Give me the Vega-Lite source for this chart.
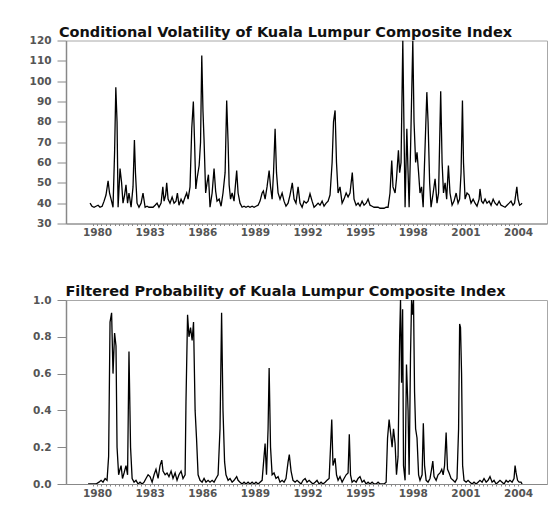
{
"$schema": "https://vega.github.io/schema/vega-lite/v6.json",
"background": "white",
"padding": {"left": 28, "top": 23.5, "right": 5, "bottom": 5},
"spacing": 44.5,
"config": {
  "font": "DejaVu Sans",
  "view": {"stroke": "#a8a8a8", "strokeWidth": 1},
  "axis": {"grid": false, "labelFont": "DejaVu Sans", "labelFontWeight": "bold", "labelFontSize": 10.5, "labelColor": "#555555", "domainColor": "#888888", "tickColor": "#888888", "title": null, "labelOverlap": false, "labelBound": false, "labelFlush": false},
  "title": {"font": "DejaVu Sans", "fontWeight": "bold", "fontSize": 14.5, "color": "#111111", "dx": -21, "offset": -4.5}
},
"datasets": {
"vol": [
{"t":1979.60,"v":40},{"t":1979.71,"v":38.5},{"t":1979.83,"v":38},{"t":1979.94,"v":38.5},{"t":1980.06,"v":39},{"t":1980.17,"v":38},{"t":1980.29,"v":38.5},{"t":1980.40,"v":41},{"t":1980.51,"v":44},{"t":1980.63,"v":51},{"t":1980.71,"v":45},{"t":1980.80,"v":42},{"t":1980.91,"v":38},{"t":1981.00,"v":65},{"t":1981.07,"v":97},{"t":1981.14,"v":80},{"t":1981.20,"v":38},{"t":1981.31,"v":57},{"t":1981.40,"v":50},{"t":1981.48,"v":40},{"t":1981.57,"v":44},{"t":1981.65,"v":49},{"t":1981.74,"v":40},{"t":1981.82,"v":45},{"t":1981.94,"v":38},{"t":1982.05,"v":48},{"t":1982.13,"v":71},{"t":1982.19,"v":55},{"t":1982.28,"v":40},{"t":1982.39,"v":38},{"t":1982.51,"v":40},{"t":1982.62,"v":45},{"t":1982.74,"v":38},{"t":1982.85,"v":38.5},{"t":1982.96,"v":38},{"t":1983.08,"v":38},{"t":1983.19,"v":38},{"t":1983.31,"v":39},{"t":1983.42,"v":40},{"t":1983.53,"v":38},{"t":1983.65,"v":40},{"t":1983.75,"v":48},{"t":1983.82,"v":41},{"t":1983.91,"v":44},{"t":1983.97,"v":50},{"t":1984.05,"v":42},{"t":1984.16,"v":40},{"t":1984.28,"v":43},{"t":1984.39,"v":40},{"t":1984.50,"v":41},{"t":1984.58,"v":45},{"t":1984.67,"v":39},{"t":1984.79,"v":42},{"t":1984.90,"v":40},{"t":1985.02,"v":43},{"t":1985.11,"v":45},{"t":1985.19,"v":42},{"t":1985.30,"v":48},{"t":1985.40,"v":77},{"t":1985.49,"v":90},{"t":1985.56,"v":70},{"t":1985.63,"v":47},{"t":1985.70,"v":52},{"t":1985.82,"v":58.5},{"t":1985.90,"v":70},{"t":1985.97,"v":112.6},{"t":1986.04,"v":85},{"t":1986.10,"v":71},{"t":1986.19,"v":45},{"t":1986.27,"v":50},{"t":1986.35,"v":54},{"t":1986.44,"v":38},{"t":1986.56,"v":45},{"t":1986.67,"v":57},{"t":1986.76,"v":46},{"t":1986.84,"v":41},{"t":1986.96,"v":42},{"t":1987.07,"v":38.5},{"t":1987.18,"v":45},{"t":1987.30,"v":55},{"t":1987.39,"v":90.5},{"t":1987.47,"v":70},{"t":1987.53,"v":49},{"t":1987.61,"v":42},{"t":1987.70,"v":45},{"t":1987.81,"v":41},{"t":1987.96,"v":56},{"t":1988.04,"v":45},{"t":1988.15,"v":40},{"t":1988.27,"v":38},{"t":1988.38,"v":38.5},{"t":1988.49,"v":38},{"t":1988.61,"v":38.5},{"t":1988.72,"v":38},{"t":1988.84,"v":38.5},{"t":1988.95,"v":38},{"t":1989.06,"v":38.5},{"t":1989.18,"v":39},{"t":1989.29,"v":41},{"t":1989.41,"v":45},{"t":1989.48,"v":46},{"t":1989.58,"v":42},{"t":1989.69,"v":48},{"t":1989.81,"v":56},{"t":1989.89,"v":48},{"t":1989.98,"v":42},{"t":1990.06,"v":55},{"t":1990.15,"v":76.6},{"t":1990.23,"v":55},{"t":1990.32,"v":45},{"t":1990.43,"v":42},{"t":1990.55,"v":45},{"t":1990.66,"v":41},{"t":1990.77,"v":38.5},{"t":1990.89,"v":40},{"t":1991.00,"v":44},{"t":1991.13,"v":50},{"t":1991.23,"v":42},{"t":1991.34,"v":40},{"t":1991.46,"v":48},{"t":1991.57,"v":40},{"t":1991.69,"v":38},{"t":1991.80,"v":41},{"t":1991.92,"v":40},{"t":1992.03,"v":41},{"t":1992.14,"v":44.6},{"t":1992.26,"v":41},{"t":1992.37,"v":38},{"t":1992.49,"v":39},{"t":1992.60,"v":40},{"t":1992.71,"v":39},{"t":1992.83,"v":41},{"t":1992.94,"v":38.5},{"t":1993.06,"v":40},{"t":1993.17,"v":41},{"t":1993.28,"v":44},{"t":1993.40,"v":60},{"t":1993.48,"v":80},{"t":1993.57,"v":85.6},{"t":1993.65,"v":60},{"t":1993.74,"v":45},{"t":1993.85,"v":48},{"t":1993.97,"v":40},{"t":1994.08,"v":42},{"t":1994.20,"v":45},{"t":1994.31,"v":43},{"t":1994.42,"v":45},{"t":1994.55,"v":55},{"t":1994.65,"v":42},{"t":1994.77,"v":39},{"t":1994.88,"v":40},{"t":1994.99,"v":38.5},{"t":1995.11,"v":41},{"t":1995.22,"v":39},{"t":1995.34,"v":40},{"t":1995.45,"v":42},{"t":1995.56,"v":39},{"t":1995.68,"v":38.5},{"t":1995.79,"v":38},{"t":1995.91,"v":38},{"t":1996.02,"v":38},{"t":1996.13,"v":37.5},{"t":1996.25,"v":37.5},{"t":1996.36,"v":37.5},{"t":1996.48,"v":38},{"t":1996.59,"v":38},{"t":1996.70,"v":45},{"t":1996.80,"v":61},{"t":1996.87,"v":48},{"t":1996.99,"v":45},{"t":1997.07,"v":52},{"t":1997.18,"v":66},{"t":1997.25,"v":55},{"t":1997.33,"v":60},{"t":1997.43,"v":120},{"t":1997.50,"v":75},{"t":1997.56,"v":38},{"t":1997.66,"v":76.6},{"t":1997.73,"v":55},{"t":1997.79,"v":38},{"t":1997.87,"v":66},{"t":1998.00,"v":120},{"t":1998.07,"v":80},{"t":1998.16,"v":60},{"t":1998.24,"v":65},{"t":1998.33,"v":55},{"t":1998.41,"v":45},{"t":1998.50,"v":48},{"t":1998.59,"v":38},{"t":1998.67,"v":60},{"t":1998.80,"v":94.6},{"t":1998.87,"v":80},{"t":1998.96,"v":50},{"t":1999.04,"v":38},{"t":1999.16,"v":45},{"t":1999.27,"v":52},{"t":1999.38,"v":40},{"t":1999.47,"v":45},{"t":1999.59,"v":95},{"t":1999.67,"v":60},{"t":1999.75,"v":45},{"t":1999.84,"v":50},{"t":1999.93,"v":42},{"t":2000.03,"v":58.5},{"t":2000.12,"v":45},{"t":2000.24,"v":39},{"t":2000.35,"v":41},{"t":2000.47,"v":45},{"t":2000.58,"v":40},{"t":2000.67,"v":42},{"t":2000.75,"v":55},{"t":2000.83,"v":90.5},{"t":2000.89,"v":60},{"t":2000.98,"v":42},{"t":2001.09,"v":45},{"t":2001.21,"v":44},{"t":2001.32,"v":40},{"t":2001.44,"v":42},{"t":2001.55,"v":40},{"t":2001.66,"v":38.5},{"t":2001.78,"v":42},{"t":2001.83,"v":47},{"t":2001.92,"v":41},{"t":2002.01,"v":40},{"t":2002.12,"v":42},{"t":2002.23,"v":40},{"t":2002.35,"v":41},{"t":2002.46,"v":39},{"t":2002.58,"v":42},{"t":2002.69,"v":40},{"t":2002.80,"v":39},{"t":2002.92,"v":41},{"t":2003.03,"v":39},{"t":2003.15,"v":38.5},{"t":2003.26,"v":38},{"t":2003.37,"v":39},{"t":2003.49,"v":40},{"t":2003.60,"v":41},{"t":2003.71,"v":39},{"t":2003.80,"v":40},{"t":2003.93,"v":48},{"t":2004.00,"v":42},{"t":2004.09,"v":39},{"t":2004.17,"v":39.5},{"t":2004.23,"v":40}
],
"prob": [
{"t":1979.49,"p":0},{"t":1979.71,"p":0},{"t":1979.94,"p":0},{"t":1980.11,"p":0.01},{"t":1980.23,"p":0.02},{"t":1980.34,"p":0.01},{"t":1980.46,"p":0.03},{"t":1980.57,"p":0.02},{"t":1980.66,"p":0.15},{"t":1980.74,"p":0.88},{"t":1980.83,"p":0.93},{"t":1980.91,"p":0.6},{"t":1981.00,"p":0.82},{"t":1981.08,"p":0.75},{"t":1981.14,"p":0.2},{"t":1981.23,"p":0.05},{"t":1981.31,"p":0.08},{"t":1981.37,"p":0.1},{"t":1981.45,"p":0.03},{"t":1981.54,"p":0.06},{"t":1981.65,"p":0.1},{"t":1981.74,"p":0.05},{"t":1981.82,"p":0.72},{"t":1981.91,"p":0.2},{"t":1982.00,"p":0.03},{"t":1982.11,"p":0.01},{"t":1982.22,"p":0.02},{"t":1982.34,"p":0},{"t":1982.45,"p":0.01},{"t":1982.57,"p":0},{"t":1982.68,"p":0.01},{"t":1982.79,"p":0.03},{"t":1982.91,"p":0.05},{"t":1983.02,"p":0.04},{"t":1983.14,"p":0.01},{"t":1983.25,"p":0.05},{"t":1983.36,"p":0.08},{"t":1983.48,"p":0.03},{"t":1983.59,"p":0.1},{"t":1983.69,"p":0.13},{"t":1983.76,"p":0.07},{"t":1983.88,"p":0.05},{"t":1983.99,"p":0.06},{"t":1984.10,"p":0.04},{"t":1984.22,"p":0.07},{"t":1984.33,"p":0.03},{"t":1984.45,"p":0.06},{"t":1984.56,"p":0.02},{"t":1984.67,"p":0.05},{"t":1984.79,"p":0.07},{"t":1984.90,"p":0.03},{"t":1985.02,"p":0.05},{"t":1985.07,"p":0.45},{"t":1985.16,"p":0.92},{"t":1985.24,"p":0.8},{"t":1985.33,"p":0.85},{"t":1985.42,"p":0.78},{"t":1985.50,"p":0.88},{"t":1985.59,"p":0.4},{"t":1985.67,"p":0.25},{"t":1985.76,"p":0.05},{"t":1985.87,"p":0.02},{"t":1985.99,"p":0.01},{"t":1986.10,"p":0.03},{"t":1986.21,"p":0.01},{"t":1986.33,"p":0.02},{"t":1986.44,"p":0.01},{"t":1986.56,"p":0.02},{"t":1986.67,"p":0.01},{"t":1986.78,"p":0.03},{"t":1986.90,"p":0.05},{"t":1987.01,"p":0.3},{"t":1987.10,"p":0.93},{"t":1987.18,"p":0.4},{"t":1987.27,"p":0.12},{"t":1987.35,"p":0.05},{"t":1987.47,"p":0.02},{"t":1987.58,"p":0.03},{"t":1987.70,"p":0.01},{"t":1987.81,"p":0.02},{"t":1987.96,"p":0.04},{"t":1988.04,"p":0.02},{"t":1988.15,"p":0.01},{"t":1988.27,"p":0},{"t":1988.38,"p":0.01},{"t":1988.49,"p":0},{"t":1988.61,"p":0.01},{"t":1988.72,"p":0},{"t":1988.84,"p":0.01},{"t":1988.95,"p":0},{"t":1989.06,"p":0.01},{"t":1989.18,"p":0},{"t":1989.29,"p":0.01},{"t":1989.41,"p":0.02},{"t":1989.52,"p":0.15},{"t":1989.58,"p":0.22},{"t":1989.66,"p":0.05},{"t":1989.75,"p":0.3},{"t":1989.81,"p":0.63},{"t":1989.89,"p":0.2},{"t":1989.98,"p":0.05},{"t":1990.09,"p":0.06},{"t":1990.20,"p":0.03},{"t":1990.32,"p":0.04},{"t":1990.43,"p":0.01},{"t":1990.55,"p":0.02},{"t":1990.66,"p":0.01},{"t":1990.77,"p":0.03},{"t":1990.89,"p":0.12},{"t":1990.96,"p":0.16},{"t":1991.06,"p":0.07},{"t":1991.17,"p":0.02},{"t":1991.29,"p":0.01},{"t":1991.40,"p":0.02},{"t":1991.52,"p":0.01},{"t":1991.63,"p":0},{"t":1991.74,"p":0.02},{"t":1991.86,"p":0.03},{"t":1991.97,"p":0.01},{"t":1992.09,"p":0.02},{"t":1992.20,"p":0.01},{"t":1992.31,"p":0},{"t":1992.43,"p":0.01},{"t":1992.54,"p":0.02},{"t":1992.66,"p":0},{"t":1992.77,"p":0.01},{"t":1992.88,"p":0},{"t":1993.00,"p":0.01},{"t":1993.11,"p":0.02},{"t":1993.23,"p":0.03},{"t":1993.31,"p":0.2},{"t":1993.38,"p":0.35},{"t":1993.45,"p":0.1},{"t":1993.57,"p":0.14},{"t":1993.65,"p":0.05},{"t":1993.74,"p":0.02},{"t":1993.85,"p":0.04},{"t":1993.97,"p":0.01},{"t":1994.08,"p":0.03},{"t":1994.20,"p":0.05},{"t":1994.31,"p":0.06},{"t":1994.38,"p":0.27},{"t":1994.45,"p":0.05},{"t":1994.54,"p":0.01},{"t":1994.65,"p":0.02},{"t":1994.77,"p":0.01},{"t":1994.88,"p":0.03},{"t":1994.99,"p":0.04},{"t":1995.11,"p":0.01},{"t":1995.22,"p":0.02},{"t":1995.34,"p":0},{"t":1995.45,"p":0.01},{"t":1995.56,"p":0},{"t":1995.68,"p":0.01},{"t":1995.79,"p":0},{"t":1995.91,"p":0},{"t":1996.02,"p":0.01},{"t":1996.13,"p":0},{"t":1996.25,"p":0},{"t":1996.36,"p":0},{"t":1996.48,"p":0.01},{"t":1996.56,"p":0.25},{"t":1996.65,"p":0.35},{"t":1996.73,"p":0.28},{"t":1996.82,"p":0.2},{"t":1996.90,"p":0.3},{"t":1996.99,"p":0.22},{"t":1997.07,"p":0.05},{"t":1997.16,"p":0.15},{"t":1997.25,"p":0.8},{"t":1997.30,"p":1.0},{"t":1997.36,"p":0.55},{"t":1997.42,"p":0.95},{"t":1997.47,"p":0.1},{"t":1997.56,"p":0.02},{"t":1997.64,"p":0.65},{"t":1997.73,"p":0.4},{"t":1997.79,"p":0.05},{"t":1997.87,"p":0.7},{"t":1997.93,"p":1.0},{"t":1997.99,"p":0.92},{"t":1998.04,"p":1.0},{"t":1998.10,"p":0.5},{"t":1998.16,"p":0.3},{"t":1998.24,"p":0.25},{"t":1998.33,"p":0.05},{"t":1998.41,"p":0.02},{"t":1998.53,"p":0.05},{"t":1998.60,"p":0.33},{"t":1998.67,"p":0.1},{"t":1998.76,"p":0.02},{"t":1998.87,"p":0.01},{"t":1998.98,"p":0.03},{"t":1999.07,"p":0.08},{"t":1999.14,"p":0.125},{"t":1999.21,"p":0.04},{"t":1999.33,"p":0.02},{"t":1999.44,"p":0.05},{"t":1999.55,"p":0.06},{"t":1999.65,"p":0.08},{"t":1999.73,"p":0.05},{"t":1999.81,"p":0.1},{"t":1999.90,"p":0.28},{"t":1999.98,"p":0.08},{"t":2000.07,"p":0.06},{"t":2000.18,"p":0.03},{"t":2000.30,"p":0.02},{"t":2000.41,"p":0.01},{"t":2000.52,"p":0.03},{"t":2000.61,"p":0.3},{"t":2000.67,"p":0.87},{"t":2000.72,"p":0.85},{"t":2000.78,"p":0.6},{"t":2000.84,"p":0.1},{"t":2000.92,"p":0.02},{"t":2001.04,"p":0.01},{"t":2001.15,"p":0.02},{"t":2001.26,"p":0.01},{"t":2001.38,"p":0},{"t":2001.49,"p":0.01},{"t":2001.61,"p":0},{"t":2001.72,"p":0.01},{"t":2001.83,"p":0.02},{"t":2001.95,"p":0.01},{"t":2002.06,"p":0.03},{"t":2002.18,"p":0.01},{"t":2002.29,"p":0.02},{"t":2002.40,"p":0.04},{"t":2002.52,"p":0.01},{"t":2002.63,"p":0.02},{"t":2002.75,"p":0},{"t":2002.86,"p":0.01},{"t":2002.97,"p":0.02},{"t":2003.09,"p":0.01},{"t":2003.20,"p":0},{"t":2003.32,"p":0.02},{"t":2003.43,"p":0.01},{"t":2003.54,"p":0.02},{"t":2003.66,"p":0.01},{"t":2003.77,"p":0.03},{"t":2003.83,"p":0.1},{"t":2003.89,"p":0.06},{"t":2003.97,"p":0.02},{"t":2004.06,"p":0.01},{"t":2004.17,"p":0.01},{"t":2004.23,"p":0}
]
},
"vconcat": [
{
  "width": 481, "height": 183,
  "title": {"text": "Conditional Volatility of Kuala Lumpur Composite Index"},
  "data": {"name": "vol"},
  "layer": [
    {
      "mark": {"type": "line", "color": "black", "strokeWidth": 1.3, "clip": true},
      "encoding": {
        "x": {"field": "t", "type": "quantitative",
          "scale": {"domain": [1978.23, 2005.65], "nice": false, "zero": false},
          "axis": {"orient": "bottom", "labels": false, "tickSize": 2, "values": [1979.75,1980,1980.25,1980.5,1980.75,1981,1981.25,1981.5,1981.75,1982,1982.25,1982.5,1982.75,1983,1983.25,1983.5,1983.75,1984,1984.25,1984.5,1984.75,1985,1985.25,1985.5,1985.75,1986,1986.25,1986.5,1986.75,1987,1987.25,1987.5,1987.75,1988,1988.25,1988.5,1988.75,1989,1989.25,1989.5,1989.75,1990,1990.25,1990.5,1990.75,1991,1991.25,1991.5,1991.75,1992,1992.25,1992.5,1992.75,1993,1993.25,1993.5,1993.75,1994,1994.25,1994.5,1994.75,1995,1995.25,1995.5,1995.75,1996,1996.25,1996.5,1996.75,1997,1997.25,1997.5,1997.75,1998,1998.25,1998.5,1998.75,1999,1999.25,1999.5,1999.75,2000,2000.25,2000.5,2000.75,2001,2001.25,2001.5,2001.75,2002,2002.25,2002.5,2002.75,2003,2003.25,2003.5,2003.75,2004]}},
        "y": {"field": "v", "type": "quantitative",
          "scale": {"domain": [30, 120], "nice": false, "zero": false},
          "axis": {"values": [30,40,50,60,70,80,90,100,110,120], "tickSize": 9, "labelPadding": 6, "domainWidth": 1.5, "labelOverlap": false}}
      }
    },
    {
      "mark": {"type": "line", "opacity": 0},
      "encoding": {
        "x": {"field": "t", "type": "quantitative",
          "scale": {"domain": [1978.23, 2005.65], "nice": false, "zero": false},
          "axis": {"orient": "bottom", "values": [1980,1983,1986,1989,1992,1995,1998,2001,2004], "format": "d", "ticks": false, "domain": false, "labelPadding": 4}},
        "y": {"field": "v", "type": "quantitative",
          "scale": {"domain": [30, 120], "nice": false, "zero": false},
          "axis": {"values": [30,40,50,60,70,80,90,100,110,120], "tickSize": 9, "labelPadding": 6, "domainWidth": 1.5, "labelOverlap": false}}
      }
    }
  ],
  "resolve": {"axis": {"x": "independent"}}
},
{
  "width": 481, "height": 184,
  "title": {"text": "Filtered Probability of Kuala Lumpur Composite Index"},
  "data": {"name": "prob"},
  "layer": [
    {
      "mark": {"type": "line", "color": "black", "strokeWidth": 1.3, "clip": true},
      "encoding": {
        "x": {"field": "t", "type": "quantitative",
          "scale": {"domain": [1978.23, 2005.65], "nice": false, "zero": false},
          "axis": {"orient": "bottom", "labels": false, "tickSize": 2, "values": [1979.75,1980,1980.25,1980.5,1980.75,1981,1981.25,1981.5,1981.75,1982,1982.25,1982.5,1982.75,1983,1983.25,1983.5,1983.75,1984,1984.25,1984.5,1984.75,1985,1985.25,1985.5,1985.75,1986,1986.25,1986.5,1986.75,1987,1987.25,1987.5,1987.75,1988,1988.25,1988.5,1988.75,1989,1989.25,1989.5,1989.75,1990,1990.25,1990.5,1990.75,1991,1991.25,1991.5,1991.75,1992,1992.25,1992.5,1992.75,1993,1993.25,1993.5,1993.75,1994,1994.25,1994.5,1994.75,1995,1995.25,1995.5,1995.75,1996,1996.25,1996.5,1996.75,1997,1997.25,1997.5,1997.75,1998,1998.25,1998.5,1998.75,1999,1999.25,1999.5,1999.75,2000,2000.25,2000.5,2000.75,2001,2001.25,2001.5,2001.75,2002,2002.25,2002.5,2002.75,2003,2003.25,2003.5,2003.75,2004]}},
        "y": {"field": "p", "type": "quantitative",
          "scale": {"domain": [0, 1], "nice": false, "zero": false},
          "axis": {"values": [0,0.2,0.4,0.6,0.8,1.0], "format": ".1f", "tickSize": 9, "labelPadding": 6, "domainWidth": 1.5, "labelOverlap": false}}
      }
    },
    {
      "mark": {"type": "line", "opacity": 0},
      "encoding": {
        "x": {"field": "t", "type": "quantitative",
          "scale": {"domain": [1978.23, 2005.65], "nice": false, "zero": false},
          "axis": {"orient": "bottom", "values": [1980,1983,1986,1989,1992,1995,1998,2001,2004], "format": "d", "ticks": false, "domain": false, "labelPadding": 4}},
        "y": {"field": "p", "type": "quantitative",
          "scale": {"domain": [0, 1], "nice": false, "zero": false},
          "axis": {"values": [0,0.2,0.4,0.6,0.8,1.0], "format": ".1f", "tickSize": 9, "labelPadding": 6, "domainWidth": 1.5, "labelOverlap": false}}
      }
    }
  ],
  "resolve": {"axis": {"x": "independent"}}
}
]
}
